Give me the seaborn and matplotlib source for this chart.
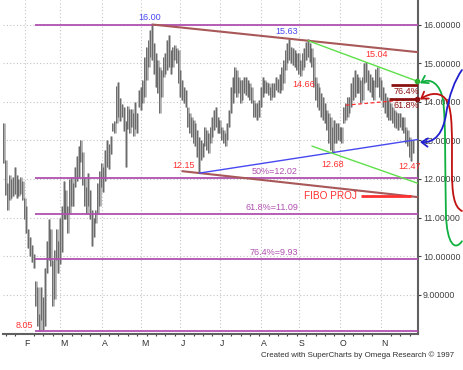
import numpy as np
import matplotlib
matplotlib.use("Agg")
import matplotlib.pyplot as plt
from matplotlib.path import Path
from matplotlib.patches import FancyArrowPatch
from matplotlib.ticker import FixedLocator, FormatStrFormatter
import seaborn as sns

# ---- daily bars, mid Jan -> late Nov 1997 ----
highs = [13.44, 12.49, 11.89, 12.10, 12.00, 12.05, 12.30, 12.10, 12.00, 12.05,
         11.95, 11.50, 11.30, 10.70, 10.50, 10.30, 10.05, 9.35, 9.20, 8.50,
         9.20, 8.95, 9.70, 10.40, 10.95, 10.70, 9.90, 10.15, 10.70, 10.40,
         11.00, 11.30, 11.95, 11.70, 11.30, 12.00, 12.05, 11.90, 12.30, 12.60,
         12.85, 13.00, 12.70, 12.05, 11.80, 12.15, 11.70, 11.20, 11.00, 11.20,
         11.90, 12.20, 12.40, 12.30, 12.75, 13.00, 12.90, 13.10, 13.45, 13.50,
         14.40, 14.50, 14.10, 13.95, 13.85, 13.50, 13.90, 13.80, 13.80, 13.70,
         14.00, 13.70, 14.30, 14.39, 14.56, 15.17, 15.43, 15.60, 15.86, 16.00,
         15.51, 15.25, 15.08, 14.91, 14.82, 15.17, 15.25, 15.60, 15.73, 15.34,
         15.43, 15.47, 15.38, 15.34, 14.82, 14.56, 14.39, 14.30, 13.87, 13.70,
         13.61, 13.53, 13.44, 13.27, 13.09, 13.01, 12.92, 13.35, 13.27, 13.18,
         13.35, 13.61, 13.79, 13.87, 13.61, 13.53, 13.35, 13.27, 13.18, 13.44,
         13.79, 14.39, 14.65, 14.91, 14.82, 14.65, 14.56, 14.56, 14.65, 14.65,
         14.56, 14.48, 14.39, 14.04, 13.96, 13.96, 14.04, 14.39, 14.65, 14.56,
         14.52, 14.48, 14.39, 14.48, 14.48, 14.65, 14.60, 14.73, 14.91, 15.08,
         15.34, 15.51, 15.63, 15.43, 15.38, 15.34, 15.25, 15.25, 15.08, 15.25,
         15.38, 15.55, 15.62, 15.51, 15.38, 15.17, 14.65, 14.48, 14.39, 14.22,
         14.13, 13.96, 13.79, 13.70, 13.61, 13.35, 13.53, 13.44, 13.44, 13.35,
         13.35, 13.87, 13.96, 14.13, 14.13, 14.48, 14.65, 14.82, 14.73, 14.65,
         14.56, 14.65, 14.99, 15.04, 14.82, 14.73, 14.65, 14.56, 14.86, 14.91,
         14.65, 14.56, 14.39, 14.22, 14.13, 14.04, 13.96, 13.87, 13.79, 13.74,
         13.70, 13.70, 13.61, 13.61, 13.35, 13.27, 13.09, 13.01, 13.01]
lows = [12.40, 11.58, 11.20, 11.45, 11.50, 11.55, 11.60, 11.50, 11.55, 11.60,
        11.45, 10.95, 10.60, 10.20, 10.00, 9.85, 9.70, 8.70, 8.20, 8.05,
        8.35, 8.08, 8.20, 9.55, 9.90, 9.75, 8.70, 8.90, 9.90, 9.55,
        9.80, 10.10, 10.95, 10.95, 10.60, 11.10, 11.30, 11.30, 11.80, 11.95,
        12.05, 12.45, 11.85, 11.30, 11.10, 11.30, 10.95, 10.25, 10.50, 10.85,
        11.10, 11.30, 11.80, 11.65, 11.95, 12.30, 12.25, 12.65, 13.25, 13.20,
        13.45, 13.60, 13.50, 13.60, 13.25, 12.30, 13.30, 13.20, 13.35, 13.10,
        13.30, 13.20, 13.85, 13.79, 13.96, 14.13, 14.56, 14.91, 15.17, 15.08,
        14.73, 14.39, 14.22, 13.70, 14.13, 14.65, 14.73, 14.82, 14.91, 14.73,
        14.91, 15.08, 14.99, 14.48, 14.13, 14.04, 13.96, 13.87, 13.35, 13.18,
        13.09, 12.92, 12.84, 12.58, 12.15, 12.49, 12.58, 12.84, 12.75, 12.66,
        12.92, 13.09, 13.27, 13.35, 13.18, 13.18, 13.01, 12.92, 12.84, 13.01,
        13.35, 13.70, 13.96, 14.22, 14.13, 14.22, 13.96, 14.04, 14.22, 14.17,
        14.13, 14.04, 13.96, 13.61, 13.61, 13.53, 13.61, 13.87, 14.13, 14.22,
        14.22, 14.17, 14.04, 14.13, 14.13, 14.30, 14.25, 14.22, 14.30, 14.48,
        14.82, 14.99, 15.08, 14.99, 14.95, 14.91, 14.82, 14.73, 14.66, 14.82,
        14.91, 15.08, 15.17, 15.04, 14.91, 14.39, 14.04, 13.87, 13.79, 13.61,
        13.53, 13.44, 13.27, 12.92, 12.75, 12.68, 12.92, 12.92, 13.01, 12.97,
        12.92, 13.44, 13.53, 13.61, 13.70, 13.87, 14.04, 14.13, 14.22, 14.22,
        13.96, 14.04, 14.48, 14.52, 14.30, 14.26, 14.13, 14.04, 14.39, 14.39,
        14.13, 14.04, 13.87, 13.70, 13.61, 13.53, 13.53, 13.44, 13.35, 13.31,
        13.27, 13.35, 13.27, 13.18, 12.92, 12.84, 12.58, 12.47, 12.66]

month_labels = ["F", "M", "A", "M", "J", "J", "A", "S", "O", "N"]
month_starts = [11, 30, 52, 73, 94, 115, 137, 157, 179, 201]
price_ticks = [9, 10, 11, 12, 13, 14, 15, 16]

# swing points (bar index, price)
pivot_idx = [79, 152, 158, 193, 175, 217, 104, 19]
pivot_price = [16.00, 15.63, 14.66, 15.04, 12.68, 12.47, 12.15, 8.05]

# retracement of the 8.05 -> 16.00 move
fib_pct = ["50%", "61.8%", "76.4%"]
fib_levels = [12.02, 11.09, 9.93]
range_levels = [16.00, 8.05]

# trendlines (x0, x1), (y0, y1)
resist_x, resist_y = [79, 220.2], [16.00, 15.285]
support_x, support_y = [95, 220.2], [12.20, 11.53]
blue_x, blue_y = [104, 220.2], [12.15, 13.02]
chan_hi_x, chan_hi_y = [162, 220.2], [15.58, 14.53]
chan_lo_x, chan_lo_y = [164, 220.2], [12.85, 11.89]
dash_x, dash_y = [182, 219], [13.91, 14.07]

# projection levels on the right
proj_pct = ["76.4%", "61.8%"]
proj_levels = [14.43, 14.07]
proj_start = [206, 205]
fibo_proj_level = 11.55
fibo_proj_x = [190, 217]

sns.set_style("white")
plt.rcParams['font.family'] = ['Liberation Sans', 'DejaVu Sans']

fig = plt.figure(figsize=(4.63, 3.70), dpi=100)
ax = fig.add_axes([3 / 463, 36 / 370, 415 / 463, 334 / 370])
ax.set_xlim(-0.5, 220.5)
ax.set_ylim(7.982, 16.635)

purple = '#b050b0'
brown = '#a85858'
red = '#ff3030'
darkred = '#8b1010'
blue = '#4848f0'
green = '#5ee04a'

# grid
ax.xaxis.set_major_locator(FixedLocator(month_starts))
ax.yaxis.set_major_locator(FixedLocator(price_ticks))
ax.grid(True, which='major', color='#c4c4c4', linestyle=(0, (1, 2)), lw=0.8)
ax.set_axisbelow(True)

# bars
x = np.arange(len(highs))
ax.vlines(x, lows, highs, color='#acacac', lw=1.9, zorder=2)
ax.vlines(x - 0.25, lows, highs, color='#585858', lw=0.55, zorder=2)

# horizontal fib lines
for lv in range_levels + fib_levels:
    ax.hlines(lv, 16.5, 220.5, color=purple, lw=1.3, zorder=3)
for pct, lv in zip(fib_pct, fib_levels):
    ax.annotate(f"{pct}={lv:.2f}", (156.6, lv), xytext=(0, 1.2), textcoords='offset points',
                ha='right', va='bottom', color=purple, fontsize=6.5)

def seg(xs, ys, color, lw, ls='-'):
    sns.lineplot(x=xs, y=ys, ax=ax, color=color, lw=lw, linestyle=ls, zorder=4)

seg(resist_x, resist_y, brown, 1.5)
seg(support_x, support_y, brown, 1.5)
seg(blue_x, blue_y, blue, 1.0)
seg(chan_hi_x, chan_hi_y, green, 1.0)
seg(chan_lo_x, chan_lo_y, green, 1.0)
seg(dash_x, dash_y, red, 0.9, (0, (3, 2)))

for pct, lv, x0 in zip(proj_pct, proj_levels, proj_start):
    ax.hlines(lv, x0, 220.5, color=darkred, lw=2.0, zorder=5)
    ax.annotate(pct, (214.1, lv), xytext=(0, -1.5), textcoords='offset points',
                ha='center', va='top', color=darkred, fontsize=6.5)

ax.hlines(fibo_proj_level, fibo_proj_x[0], fibo_proj_x[1], color=red, lw=2.0, zorder=5)
ax.annotate("FIBO PROJ", (fibo_proj_x[0], fibo_proj_level), xytext=(-2.5, 0),
            textcoords='offset points', ha='right', va='center', color=red, fontsize=7.2)

ax.plot([chan_hi_x[1]], [chan_hi_y[1]], 'o', color='#30b030', ms=3, clip_on=False, zorder=6)
ax.plot([220.2], [proj_levels[1]], 'o', color=darkred, ms=3, clip_on=False, zorder=6)

# swing labels: (dx, dy) in points, ha, va, color
label_style = [((-2, 2), 'center', 'bottom', blue),
               ((-2, 2), 'center', 'bottom', blue),
               ((2, -2.4), 'center', 'top', red),
               ((7.5, 1.5), 'center', 'bottom', red),
               ((0, -5), 'center', 'top', red),
               ((-1, -0.8), 'center', 'top', red),
               ((-3, 5.4), 'right', 'center', red),
               ((-4.5, 4.5), 'right', 'center', red)]
for i, p, (off, ha, va, c) in zip(pivot_idx, pivot_price, label_style):
    ax.annotate(f"{p:.2f}", (i, p), xytext=off, textcoords='offset points',
                ha=ha, va=va, color=c, fontsize=6.5, zorder=7)

# curved projection arrows right of the price scale (offsets in px from tip)
def curve_arrow(tip, offsets, color):
    t = ax.transData.transform(tip)
    pts = t + np.array(offsets, dtype=float) * np.array([1, -1])
    verts = ax.transData.inverted().transform(pts)
    codes = [Path.MOVETO] + [Path.CURVE4] * (len(verts) - 1)
    arr = FancyArrowPatch(path=Path(verts, codes), arrowstyle='->,head_length=0.45,head_width=0.3',
                          mutation_scale=10, color=color, lw=1.3, clip_on=False, zorder=8)
    ax.add_patch(arr)

curve_arrow((chan_hi_x[1], chan_hi_y[1]),
            [(44.5, 160), (37.5, 170), (29.5, 163), (28.5, 133), (27.5, 88), (28.5, 38),
             (25.5, 18), (22.5, 3), (13.5, -4), (2.5, 2)], '#10b040')
curve_arrow((220.2, proj_levels[1]),
            [(44.5, 112), (36.5, 108), (34.5, 95), (34.5, 70), (34.5, 40), (35.5, 12),
             (29.5, 2), (24.5, -7), (13.5, -7), (2.5, 0.5)], '#c01010')
curve_arrow((blue_x[1], blue_y[1]),
            [(44.5, -69.5), (37.5, -59.5), (31.5, -44.5), (28.5, -24.5), (25.5, -7.5),
             (18.5, 3.5), (2.5, 2.5)], '#2020d0')

# axes styling
for s in ['top', 'left']:
    ax.spines[s].set_visible(False)
for s in ['right', 'bottom']:
    ax.spines[s].set_color('#606060')
    ax.spines[s].set_linewidth(1.5)
ax.yaxis.tick_right()
ax.yaxis.set_major_formatter(FormatStrFormatter('%.5f'))
ax.tick_params(axis='y', length=2.5, pad=1, labelsize=6.4, colors='#404040', width=0.8)
ax.xaxis.set_minor_locator(FixedLocator(np.arange(1, 220, 5)))
ax.tick_params(axis='x', which='major', length=3, width=0.8, color='#404040', pad=0.3)
ax.tick_params(axis='x', which='minor', length=1.6, width=0.8, color='#404040', bottom=True)
ax.set_xticklabels(month_labels, fontsize=6.3, color='#303030', ha='left')
ax.set_xlabel("")
ax.set_ylabel("")

fig.text(454 / 463, 1 - 355 / 370, "Created with SuperCharts by Omega Research \u00a9 1997",
         ha='right', va='center', fontsize=5.7, color='#303030')

fig.savefig("out.png", dpi=100)
